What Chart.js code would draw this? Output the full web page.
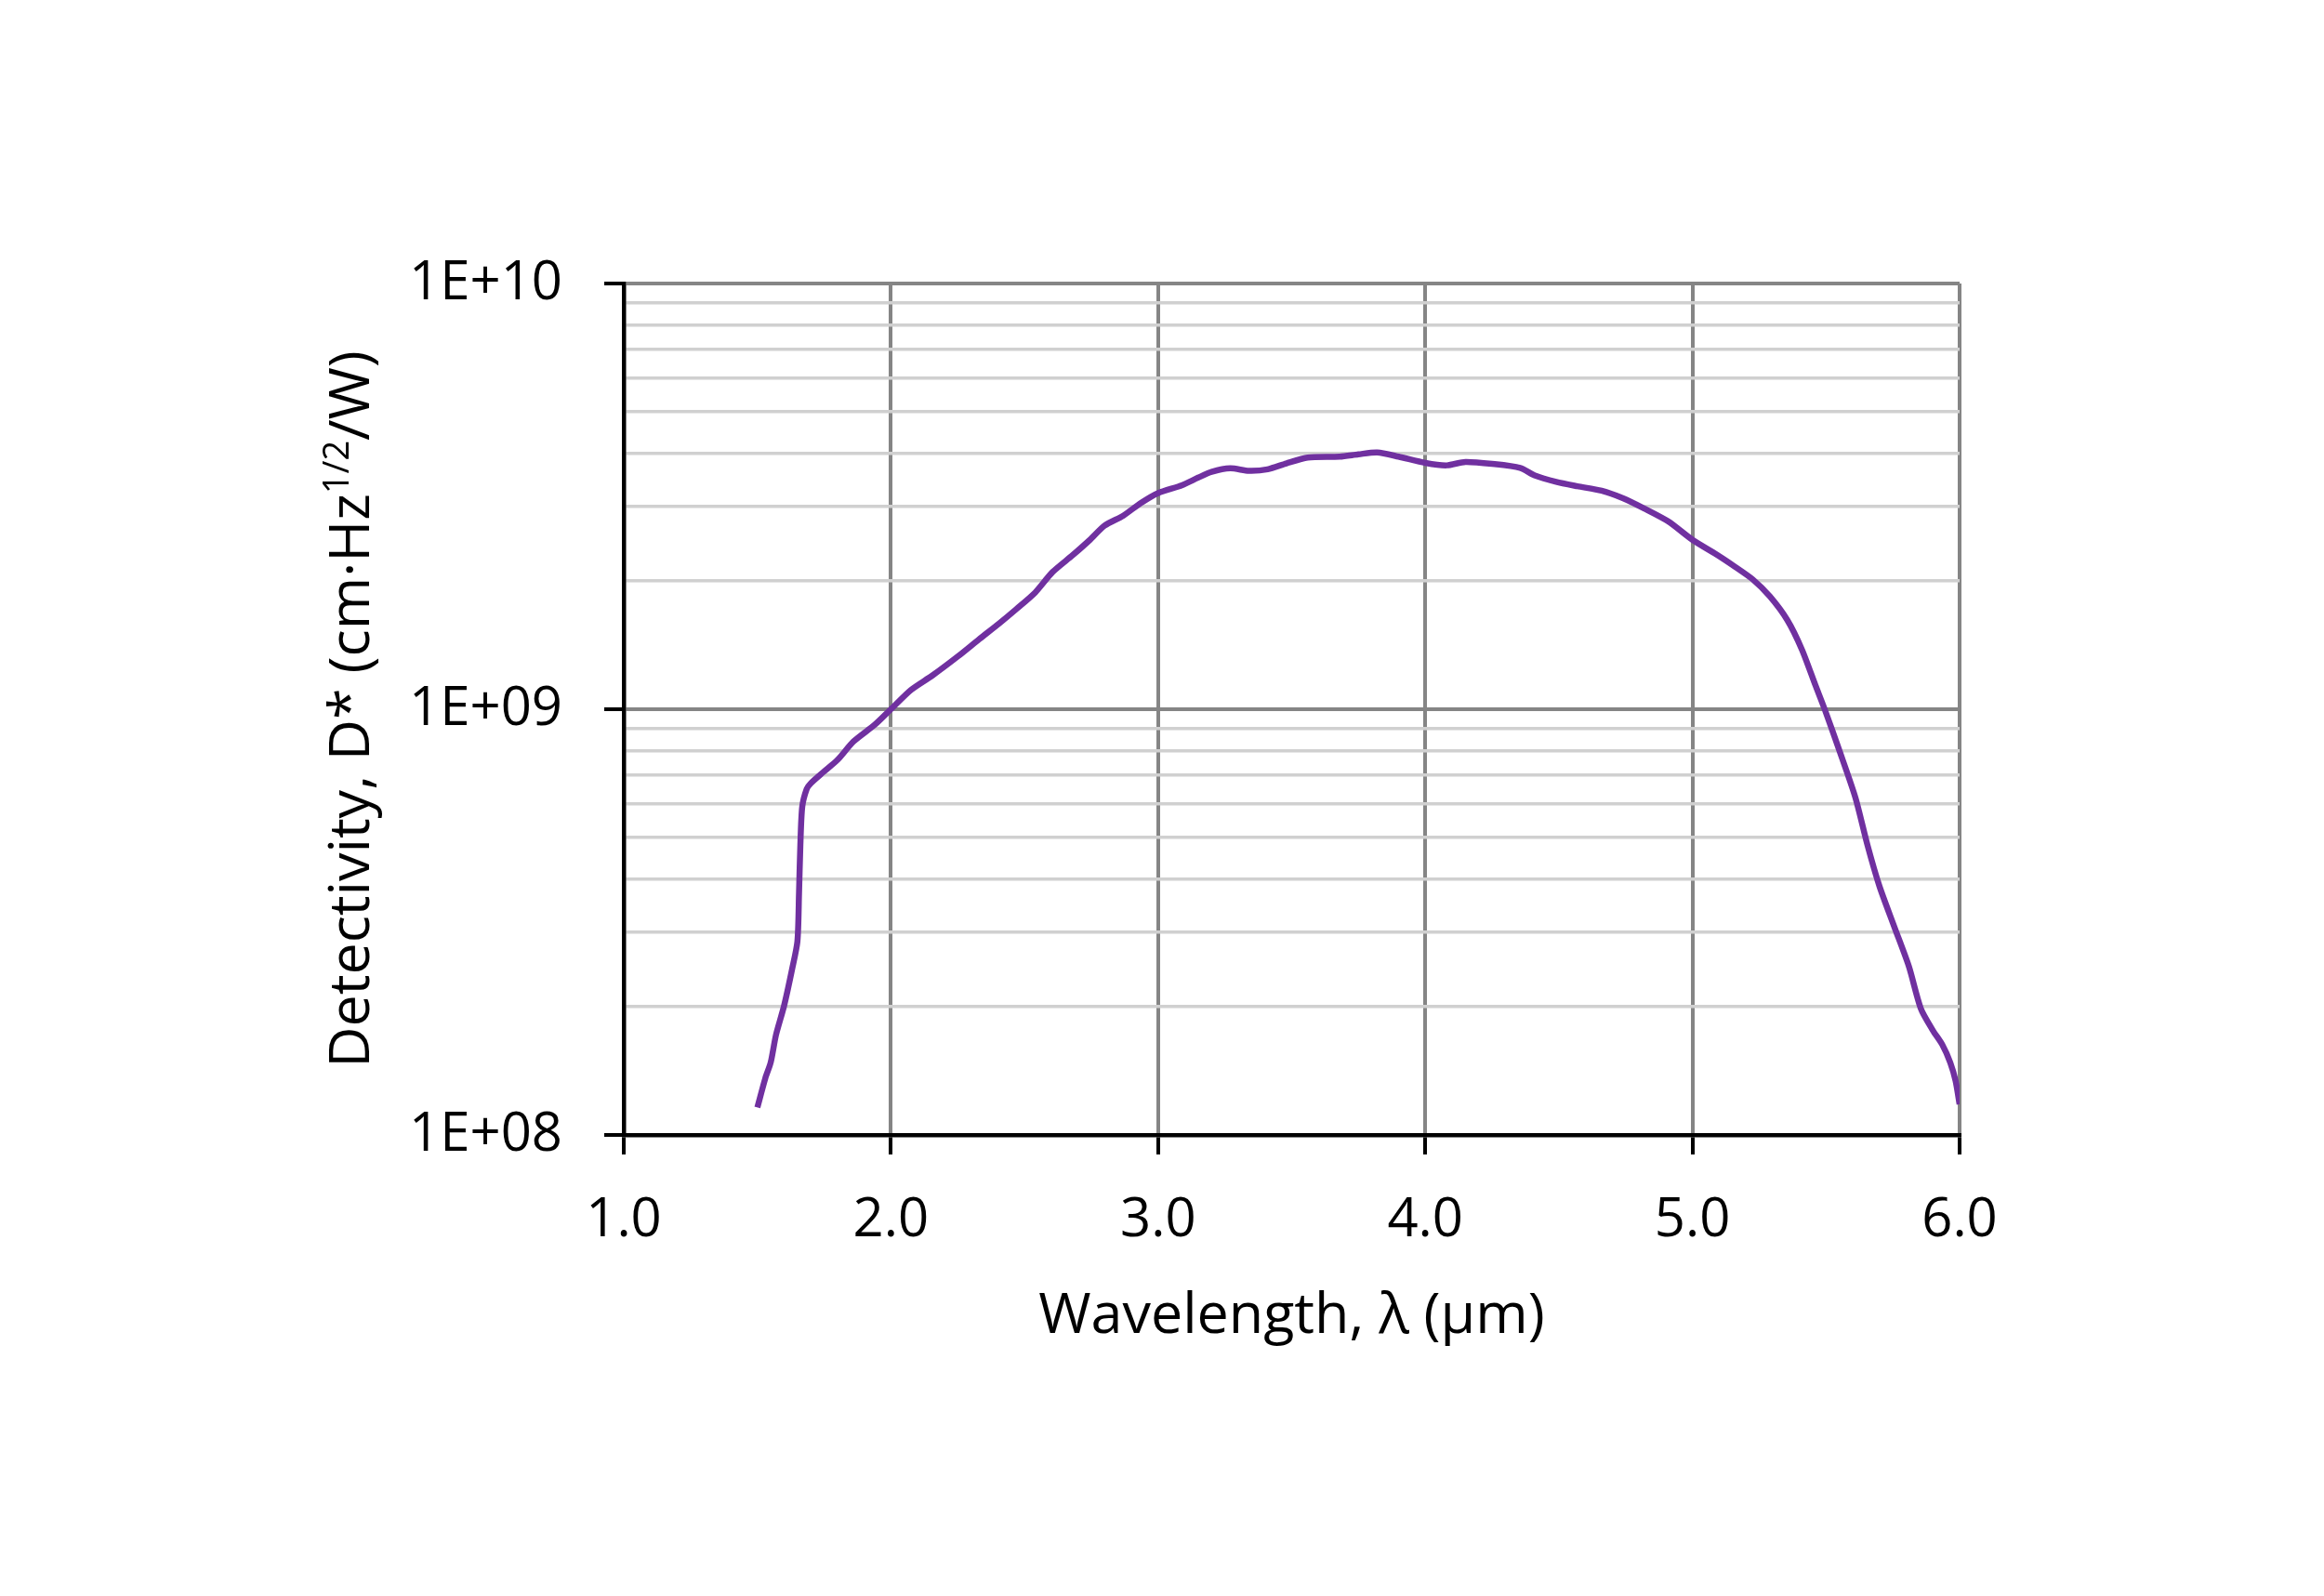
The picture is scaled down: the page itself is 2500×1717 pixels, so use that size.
<!DOCTYPE html>
<html>
<head>
<meta charset="utf-8">
<script src="https://cdn.jsdelivr.net/npm/chart.js@4.4.1/dist/chart.umd.min.js"></script>
<style>
  html, body { margin: 0; padding: 0; background: #fff; }
  canvas { display: block; }
</style>
</head>
<body>
<canvas id="chart" width="2500" height="1717"></canvas>
<script>
// wavelength in µm
const wavelength = [
  1.50, 1.53, 1.55, 1.57, 1.60, 1.63, 1.65, 1.656, 1.661, 1.668,
  1.685, 1.70, 1.745, 1.80, 1.86, 1.94, 2.00, 2.075, 2.155, 2.25,
  2.33, 2.405, 2.47, 2.54, 2.605, 2.68, 2.745, 2.80, 2.87, 2.935,
  3.00, 3.09, 3.15, 3.20, 3.27, 3.34, 3.41, 3.48, 3.56, 3.68,
  3.75, 3.82, 3.90, 4.00, 4.08, 4.15, 4.25, 4.355, 4.41, 4.49,
  4.57, 4.66, 4.74, 4.82, 4.91, 5.00, 5.09, 5.16, 5.225, 5.29,
  5.355, 5.41, 5.46, 5.495, 5.55, 5.61, 5.655, 5.70, 5.755, 5.81,
  5.855, 5.90, 5.935, 5.965, 5.985, 6.00,
];

// detectivity D* in cm·Hz^1/2/W
const detectivity = [
  1.16e8, 1.36e8, 1.48e8, 1.72e8, 2.01e8, 2.45e8, 2.85e8, 3.7e8, 4.8e8, 5.9e8,
  6.5e8, 6.7e8, 7.1e8, 7.6e8, 8.4e8, 9.2e8, 1.0e9, 1.11e9, 1.20e9, 1.33e9,
  1.46e9, 1.59e9, 1.72e9, 1.88e9, 2.10e9, 2.30e9, 2.50e9, 2.70e9, 2.85e9, 3.05e9,
  3.22e9, 3.36e9, 3.50e9, 3.61e9, 3.68e9, 3.63e9, 3.66e9, 3.78e9, 3.90e9, 3.92e9,
  3.97e9, 4.01e9, 3.92e9, 3.79e9, 3.74e9, 3.81e9, 3.77e9, 3.69e9, 3.54e9, 3.42e9,
  3.34e9, 3.26e9, 3.13e9, 2.96e9, 2.76e9, 2.50e9, 2.31e9, 2.16e9, 2.02e9, 1.84e9,
  1.62e9, 1.38e9, 1.14e9, 1.0e9, 8.0e8, 6.2e8, 4.8e8, 3.84e8, 3.09e8, 2.49e8,
  1.98e8, 1.76e8, 1.63e8, 1.48e8, 1.34e8, 1.18e8,
];

const xTicks = [1, 2, 3, 4, 5, 6];
const yTicks = [
  1e8, 2e8, 3e8, 4e8, 5e8, 6e8, 7e8, 8e8, 9e8,
  1e9, 2e9, 3e9, 4e9, 5e9, 6e9, 7e9, 8e9, 9e9,
  1e10,
];
const yDecades = [1e8, 1e9, 1e10];
const yDecadeLabels = ['1E+08', '1E+09', '1E+10'];

const xTitle = 'Wavelength, λ (µm)';
const yTitleParts = ['Detectivity, D* (cm·Hz', '1/2', '/W)'];

// -----------------------------------------------------------------------------

const FONT = "'Open Sans', sans-serif";
const FONT_SIZE = 58;
const TITLE_SIZE = 61;
const LINE_COLOR = '#7030a0';
const GRID_MAJOR = '#858585';
const GRID_MINOR = '#d0d0d0';

function decadeIndex(v) {
  return yDecades.findIndex((d) => Math.abs(v / d - 1) < 1e-6);
}

const axisTitles = {
  id: 'axisTitles',
  afterDraw(chart) {
    const { ctx, chartArea } = chart;
    ctx.save();
    ctx.fillStyle = '#000';
    ctx.font = `${TITLE_SIZE}px ${FONT}`;
    ctx.textAlign = 'center';
    ctx.textBaseline = 'middle';
    ctx.fillText(xTitle, (chartArea.left + chartArea.right) / 2, chartArea.bottom + 196);

    // rotated y title with a superscript
    const supSize = Math.round(TITLE_SIZE * 0.62);
    const mainFont = `${TITLE_SIZE}px ${FONT}`;
    const supFont = `${supSize}px ${FONT}`;
    ctx.font = mainFont;
    const w0 = ctx.measureText(yTitleParts[0]).width;
    const w2 = ctx.measureText(yTitleParts[2]).width;
    ctx.font = supFont;
    const w1 = ctx.measureText(yTitleParts[1]).width;
    const total = w0 + w1 + w2;

    ctx.translate(chartArea.left - 296, (chartArea.top + chartArea.bottom) / 2);
    ctx.rotate(-Math.PI / 2);
    ctx.textAlign = 'left';
    ctx.textBaseline = 'alphabetic';
    const base = TITLE_SIZE * 0.36;
    let x = -total / 2;
    ctx.font = mainFont;
    ctx.fillText(yTitleParts[0], x, base);
    x += w0;
    ctx.font = supFont;
    ctx.fillText(yTitleParts[1], x, base - TITLE_SIZE * 0.36);
    x += w1;
    ctx.font = mainFont;
    ctx.fillText(yTitleParts[2], x, base);
    ctx.restore();
  },
};

Chart.defaults.font.family = FONT;
Chart.defaults.font.size = FONT_SIZE;
Chart.defaults.color = '#000';

const chartElem = document.getElementById('chart');

const detChart = new Chart(chartElem, {
  type: 'line',
  data: {
    datasets: [
      {
        label: 'D*',
        data: wavelength.map((w, i) => ({ x: w, y: detectivity[i] })),
        borderColor: LINE_COLOR,
        borderWidth: 6.5,
        pointRadius: 0,
        tension: 0.25,
        fill: false,
      },
    ],
  },
  options: {
    responsive: false,
    animation: false,
    events: [],
    layout: {
      padding: { left: 0, top: 305, right: 392, bottom: 0 },
    },
    plugins: {
      legend: { display: false },
      tooltip: { enabled: false },
    },
    scales: {
      x: {
        type: 'linear',
        min: 1,
        max: 6,
        afterBuildTicks: (scale) => {
          scale.ticks = xTicks.map((v) => ({ value: v }));
        },
        afterFit: (scale) => {
          scale.height = 1717 - 1221;
          scale.paddingLeft = 0;
          scale.paddingRight = 0;
        },
        ticks: {
          padding: 37,
          maxRotation: 0,
          autoSkip: false,
          callback: (v) => Number(v).toFixed(1),
        },
        grid: {
          color: GRID_MAJOR,
          lineWidth: 4,
          tickLength: 21,
          tickColor: '#000',
          tickWidth: 4,
        },
        border: { color: '#000', width: 4.5 },
      },
      y: {
        type: 'logarithmic',
        min: 1e8,
        max: 1e10,
        afterBuildTicks: (scale) => {
          scale.ticks = yTicks.map((v) => ({ value: v }));
        },
        afterFit: (scale) => {
          scale.width = 671;
          scale.paddingTop = 0;
          scale.paddingBottom = 0;
        },
        ticks: {
          padding: 45,
          autoSkip: false,
          callback: (v) => {
            const i = decadeIndex(v);
            return i >= 0 ? yDecadeLabels[i] : '';
          },
        },
        grid: {
          color: (ctx) => (decadeIndex(ctx.tick.value) >= 0 ? GRID_MAJOR : GRID_MINOR),
          lineWidth: (ctx) => (decadeIndex(ctx.tick.value) >= 0 ? 4 : 3.5),
          tickLength: 21,
          tickColor: (ctx) => (decadeIndex(ctx.tick.value) >= 0 ? '#000' : 'rgba(0,0,0,0)'),
          tickWidth: 4,
        },
        border: { color: '#000', width: 4.5 },
      },
    },
  },
  plugins: [axisTitles],
});
</script>
</body>
</html>
